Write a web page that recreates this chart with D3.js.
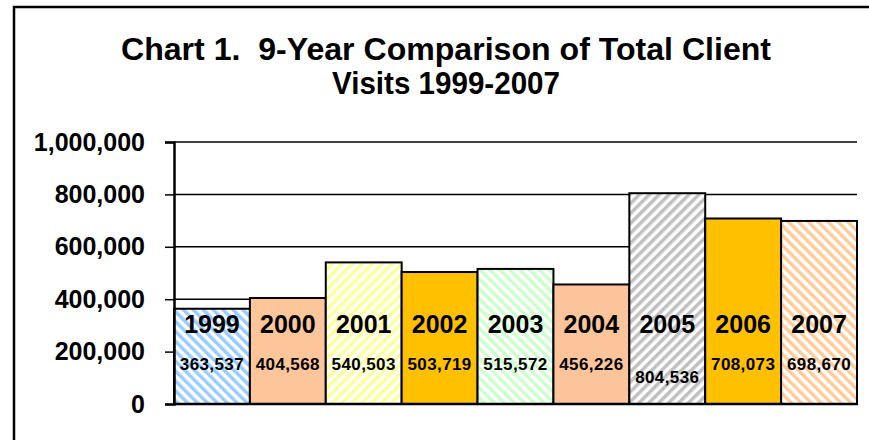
<!DOCTYPE html>
<html>
<head>
<meta charset="utf-8">
<script src="https://cdn.jsdelivr.net/npm/d3@7"></script>
<style>
  body { margin: 0; background: #fff; }
  svg { display: block; font-family: "Liberation Sans", Arial, sans-serif; }
</style>
</head>
<body>
<svg width="869" height="440"></svg>
<script>
// --- Data ---
const years = ["1999","2000","2001","2002","2003","2004","2005","2006","2007"];
const visits = [363537, 404568, 540503, 503719, 515572, 456226, 804536, 708073, 698670];
const yTicks = [0, 200000, 400000, 600000, 800000, 1000000];
const titleLines = ["Chart 1.  9-Year Comparison of Total Client", "Visits 1999-2007"];

// --- Bar styles (solid colour or striped pattern) ---
const barStyles = [
  { color: "#99ccff", stripe: "back" },
  { color: "#fdc59a", stripe: null },
  { color: "#ffff99", stripe: "fwd" },
  { color: "#ffc000", stripe: null },
  { color: "#ccffcc", stripe: "back" },
  { color: "#fbc49a", stripe: null },
  { color: "#c0c0c0", stripe: "fwd" },
  { color: "#ffc000", stripe: null },
  { color: "#ffcc99", stripe: "back" }
];

// --- Setup ---
const svg = d3.select("svg"),
      width = +svg.attr("width"),
      height = +svg.attr("height");

const margin = { left: 174, right: 12, top: 142, bottom: 36 };

svg.append("rect").attr("width", width).attr("height", height).attr("fill", "#fff");

// outer chart border
svg.append("rect")
  .attr("x", 14).attr("y", 7)
  .attr("width", width + 20).attr("height", height + 20)
  .attr("fill", "none").attr("stroke", "#000").attr("stroke-width", 2.5);

// --- Title ---
svg.append("g").selectAll("text")
  .data(titleLines)
  .enter().append("text")
    .attr("x", 446)
    .attr("y", (d, i) => 60 + i * 34)
    .attr("text-anchor", "middle")
    .attr("font-size", "32px")
    .attr("font-weight", "bold")
    .style("white-space", "pre")
    .attr("textLength", (d, i) => i === 0 ? 650 : 228)
    .attr("lengthAdjust", "spacingAndGlyphs")
    .text(d => d);

// --- Scales ---
const x = d3.scaleBand()
  .domain(years)
  .range([margin.left, width - margin.right])
  .padding(0);

const y = d3.scaleLinear()
  .domain([0, 1000000])
  .range([height - margin.bottom, margin.top]);

// --- Patterns ---
const defs = svg.append("defs");
barStyles.forEach((s, i) => {
  if (!s.stripe) return;
  const p = defs.append("pattern")
    .attr("id", "stripe" + i)
    .attr("patternUnits", "userSpaceOnUse")
    .attr("width", 7).attr("height", 7)
    .attr("patternTransform", s.stripe === "back" ? "rotate(-45)" : "rotate(45)");
  p.append("rect").attr("width", 7).attr("height", 7).attr("fill", "#fff");
  p.append("rect").attr("width", 3.5).attr("height", 7).attr("fill", s.color);
});

// --- Gridlines ---
svg.append("g")
  .selectAll("line")
  .data(yTicks.filter(d => d > 0))
  .enter().append("line")
    .attr("x1", margin.left).attr("x2", width - margin.right)
    .attr("y1", d => y(d)).attr("y2", d => y(d))
    .attr("stroke", "#000").attr("stroke-width", 1.5);

// --- Bars ---
svg.append("g")
  .selectAll("rect")
  .data(visits)
  .enter().append("rect")
    .attr("x", (d, i) => x(years[i]))
    .attr("y", d => y(d))
    .attr("width", x.bandwidth())
    .attr("height", d => y(0) - y(d))
    .attr("fill", (d, i) => barStyles[i].stripe ? `url(#stripe${i})` : barStyles[i].color)
    .attr("stroke", "#000")
    .attr("stroke-width", 2);

// --- Y axis ---
const yAxis = svg.append("g")
  .attr("transform", `translate(${margin.left},0)`)
  .call(d3.axisLeft(y).tickValues(yTicks).tickFormat(d3.format(",")).tickSize(9).tickPadding(20));
yAxis.select(".domain").attr("stroke-width", 2.5);
yAxis.selectAll(".tick line").attr("stroke-width", 1.5);
yAxis.selectAll("text")
  .attr("font-size", "25px")
  .attr("font-weight", "bold")
  .attr("font-family", "Liberation Sans, Arial, sans-serif")
  .attr("fill", "#000");

// --- X axis line ---
svg.append("line")
  .attr("x1", margin.left).attr("x2", width - margin.right + 1)
  .attr("y1", y(0)).attr("y2", y(0))
  .attr("stroke", "#000").attr("stroke-width", 2.5);

// --- Labels inside bars ---
const labels = svg.append("g").attr("font-weight", "bold").attr("text-anchor", "middle");
labels.selectAll(".year")
  .data(years)
  .enter().append("text")
    .attr("class", "year")
    .attr("x", d => x(d) + x.bandwidth() / 2)
    .attr("y", y(0) - 71)
    .attr("font-size", "25px")
    .text(d => d);

labels.selectAll(".val")
  .data(visits)
  .enter().append("text")
    .attr("class", "val")
    .attr("x", (d, i) => x(years[i]) + x.bandwidth() / 2)
    .attr("y", (d, i) => years[i] === "2005" ? y(0) - 21 : y(0) - 34)
    .attr("font-size", "17px")
    .attr("letter-spacing", "0.4px")
    .text(d => d3.format(",")(d));
</script>
</body>
</html>
